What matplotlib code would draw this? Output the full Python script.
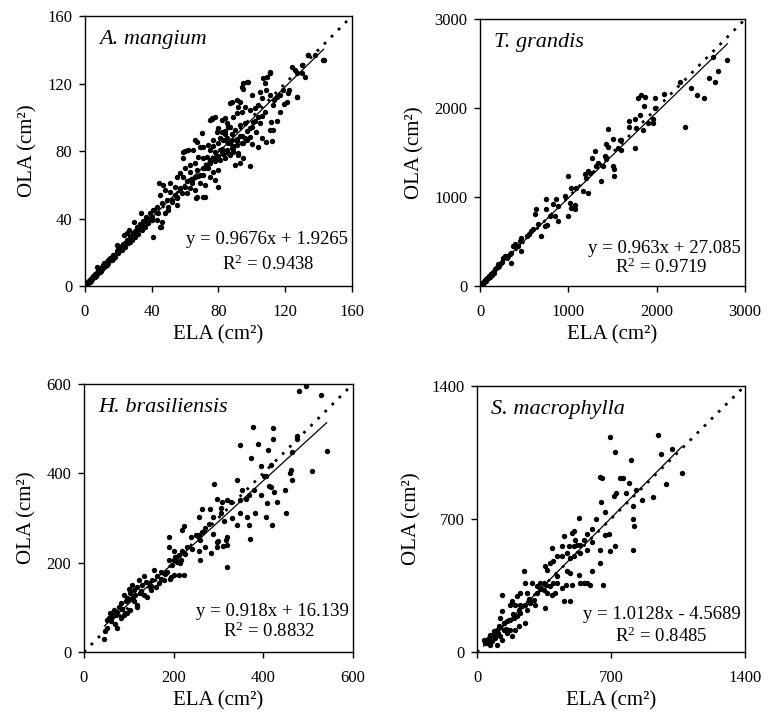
import numpy as np
import matplotlib
matplotlib.use('Agg')
import matplotlib.pyplot as plt

plt.rcParams['font.family'] = ['Liberation Serif', 'DejaVu Serif']
plt.rcParams['mathtext.fontset'] = 'custom'
plt.rcParams['mathtext.rm'] = 'Liberation Serif'
plt.rcParams['mathtext.default'] = 'regular'

# %% Data (ELA, OLA)
mangium_x = [0.5, 1, 1.5, 2, 2.5, 3, 3.5, 4, 4.5, 5, 5.5, 6, 6.5, 7, 7.5, 8, 8.5, 9, 9.5, 10, 10.5, 11, 11.5, 12,
             13, 13.5, 14, 15, 16, 17, 18, 19, 20, 21, 22, 23, 24, 25, 26, 27, 28, 29, 30, 31, 32, 33, 34, 35, 36,
             37, 38, 39, 40,
             40.9, 45.3, 33.4, 29.4, 23.4, 19.4, 7.4, 11.4, 15.4, 25.4, 26.4, 31.4, 36.4, 39.4, 41.4,
             2, 3, 6, 9, 12, 14, 17, 20, 22, 24, 27, 30, 33, 35, 37,
             142.8, 137.8, 133.8, 131.8, 129.8, 126.8, 125.8, 123.8, 129.8, 126.8, 120.8, 121.8, 118.8, 116.8,
             114.8, 112.8, 111.8, 112.8, 110.8, 107.8, 106.8, 97.9, 94.9, 93.9, 99.9, 104.8, 108.8, 110.8, 105.9,
             103.9, 101.9, 98.9, 95.9, 92.9, 91.9, 90.9, 87.9, 86.9, 93.9, 90.9, 88.9, 83.9, 81.9, 75.9, 74.9,
             84.9, 86.9, 79.9, 81.9, 83.9, 89.9, 92.9, 95.9, 98.9, 100.9, 104.8, 102.8, 98.9, 96.9, 105.9, 103.9,
             108.8, 110.8, 93.9, 90.9, 87.9, 85.9, 82.9, 79.9, 76.9, 70.9, 68.9, 66.9, 65.9, 64.9, 69.9, 73.9,
             74.9, 77.9, 81.9, 84.9, 88.9, 91.9, 94.9, 92.9, 89.9, 86.9, 83.9, 80.9, 77.9, 74.9, 72.9, 70.9, 67.9,
             65.9, 62.9, 58.9, 58.9, 61.9, 59.9, 62.9, 66.9, 70.9, 73.9, 76.9, 79.9, 74.9, 77.9, 79.9, 71.9, 68.9,
             65.9, 62.9, 58.9, 56.9, 54.9, 53.9, 50.9, 46.9, 47.9, 44.9, 50.9, 53.9, 56.9, 59.9, 60.9, 66.9, 70.9,
             65.9, 62.9, 45.9, 48.9, 51.9, 54.9, 42.9, 40.9, 43.9, 47.9, 49.9, 39.9, 44.9, 42.9, 45.9,
             143, 133.6, 127, 111, 109, 97, 95, 76, 78, 60, 44.6, 112, 66.5, 72, 99, 115,
             85, 88, 82, 91, 86, 80, 78, 84, 89, 93, 96, 100, 72, 75, 69, 64, 57, 52, 55, 61,
             87, 89, 91, 84, 86, 81, 79, 77, 94, 97, 102, 100, 106, 83, 88, 92, 95, 71, 73, 68, 64, 58, 55, 50,
             117, 119, 122, 113, 108, 104]
mangium_y = [0.6, 1.3, 1.2, 2.4, 2.2, 3.5, 3.1, 4.6, 4.2, 5.8, 5.1, 6.9, 6.2, 7.8, 7.1, 9.2, 8.3, 9.8, 9.0, 11.2,
             10.1, 12.3, 11.0, 13.4, 12.7, 14.5, 13.6, 16.4, 15.2, 18.5, 17.4, 21.0, 19.6, 23.2, 21.4, 24.8, 23.0,
             27.5, 25.3, 29.8, 27.0, 31.5, 29.2, 34.0, 31.0, 36.5, 33.0, 38.5, 35.0, 40.5, 37.5, 43, 39.0,
             28.8, 35.2, 43.1, 38.2, 30.2, 24.3, 11.1, 13.4, 16.2, 31.2, 33.2, 35.2, 41.1, 40.1, 45.1,
             1.5, 2.6, 5.5, 8.6, 11.8, 15.6, 16.3, 21.8, 23.9, 25.6, 26.2, 32.5, 33.8, 35.8, 37.9,
             134, 136.9, 136.9, 124, 126, 126, 128, 130, 131, 112.2, 109.3, 114.2, 116.2, 103.3, 112.2, 107.3,
             97.4, 92.5, 126, 120.1, 123.1, 121.1, 120.1, 118.2, 113.2, 115.2, 116.2, 113.2, 111.2, 107.3, 105.3,
             104.3, 106.3, 109.3, 106.3, 110.2, 109.3, 108.3, 103.3, 102.3, 100.4, 99.4, 98.4, 99.4, 98.4, 96.4,
             94.5, 93.5, 91.5, 90.5, 92.5, 95.4, 96.4, 93.5, 97.4, 96.4, 91.5, 88.5, 86.6, 87.5, 82.6, 85.6, 92.5,
             84.6, 83.6, 86.6, 84.6, 86.6, 84.6, 86.6, 82.6, 82.6, 85.6, 86.6, 80.6, 90.5, 83.6, 80.6, 79.6, 79.6,
             80.6, 79.6, 77.7, 75.7, 72.7, 71.7, 77.7, 75.7, 74.7, 75.7, 74.7, 76.7, 75.7, 76.7, 72.7, 71.7, 75.7,
             79.6, 80.6, 69.8, 67.8, 68.8, 69.8, 69.8, 67.8, 68.8, 64.8, 62.9, 58.9, 59.9, 60.9, 64.8, 62.9, 64.8,
             66.8, 64.8, 58.9, 60.9, 59.9, 56.9, 54, 55.9, 54, 56.9, 58.9, 55, 53, 53, 56.9, 57.9, 49, 51, 50, 48,
             47.1, 45.1, 43.1, 43.1, 45.1, 41.1, 35.2, 39.1, 38.2,
             134, 137, 112, 127, 124, 121, 117, 99, 100, 80, 61, 86, 52, 53, 71, 98,
             88, 90, 81, 86, 79, 77, 74, 92, 83, 89, 88, 94, 70, 73, 66, 63, 58, 51, 53, 62,
             85, 81, 87, 90, 94, 88, 91, 83, 89, 92, 98, 84, 101, 78, 82, 79, 85, 66, 71, 65, 61, 55, 52, 47,
             113, 108, 116, 110, 103, 100]

grandis_x = [2800, 2691, 2664, 2589, 2642, 2532, 2461, 2385, 2317, 2265, 2079, 1978, 1978, 1955, 1959, 1906, 1865,
             1820, 1789, 1853, 1808, 1751, 1687, 1691, 1762, 1842, 1751, 1449, 1506, 1581, 1600, 1562, 1600, 1431,
             1449, 1412, 1423, 1506, 1521, 1514, 1374, 1298, 1268, 1336, 1317, 1393, 1223, 1193, 1204, 1242, 1223,
             1166, 1091, 1034, 996, 959, 1072, 1072, 1034, 996, 1015, 883, 864, 827, 751, 845, 883, 751, 789, 762,
             732, 694, 638, 619, 657, 600, 581, 558, 536, 468, 449, 392, 373, 430, 355, 336, 468, 355, 279, 260,
             242, 204, 185, 147, 128, 91, 72, 53, 34, 15,
             5, 10, 20, 30, 40, 50, 60, 70, 80, 90, 100, 110, 120, 130, 150, 160, 170, 200, 220, 250, 300, 320]
grandis_y = [2539, 2416, 2292, 2341, 2577, 2112, 2146, 2232, 1786, 2292, 2165, 2109, 2004, 1873, 1835, 1828, 2127,
             2146, 2109, 2030, 1925, 1873, 1854, 1786, 1779, 1760, 1554, 1768, 1655, 1637, 1637, 1554, 1535, 1592,
             1565, 1461, 1423, 1348, 1311, 1236, 1180, 1517, 1442, 1386, 1348, 1348, 1292, 1255, 1217, 1273, 1049,
             1067, 1105, 1105, 1236, 1011, 906, 869, 880, 786, 936, 899, 974, 918, 974, 786, 730, 861, 786, 682,
             674, 562, 861, 805, 693, 637, 618, 580, 562, 543, 506, 468, 449, 449, 374, 356, 393, 262, 337, 318,
             262, 243, 206, 150, 131, 94, 75, 56, 37, 19,
             8, 12, 25, 28, 45, 42, 70, 62, 90, 85, 110, 100, 135, 120, 160, 150, 190, 210, 230, 270, 310, 340]

brasil_x = [494, 480, 529, 541, 509, 476, 474, 465, 461, 459, 463, 448, 451, 422, 422, 410, 388, 378, 349, 372,
            394, 416, 401, 407, 413, 416, 424, 430, 408, 394, 379, 368, 361, 352, 342, 348, 327, 320, 309, 296,
            291, 305, 288, 281, 264, 257, 279, 271, 257, 249, 223, 219, 238, 260, 264, 305, 312, 348, 363, 367,
            341, 381, 405, 420, 370, 320, 316, 320, 311, 297, 296, 283, 271, 257, 260, 320, 230, 219, 212, 201,
            190, 190, 204, 201, 197, 208, 216, 190, 186, 201, 212, 223, 192, 178, 171, 164, 156, 152, 145, 138,
            134, 130, 123, 119, 112, 108, 104, 100, 97, 93, 89, 82, 78, 74, 71, 67, 63, 59, 56, 52, 74, 52, 48,
            45, 112, 119, 104, 97, 89, 82, 126, 134, 149, 160, 167, 178, 115,
            60, 66, 70, 85, 92, 102, 110, 118, 128, 140, 150, 172, 182, 195, 205, 215, 225, 240, 288, 300, 330]
brasil_y = [596, 583, 575, 449, 406, 484, 476, 448, 407, 401, 384, 363, 312, 501, 476, 451, 466, 504, 462, 433,
            416, 418, 394, 394, 371, 368, 358, 336, 333, 351, 363, 351, 342, 363, 384, 340, 336, 339, 336, 342,
            376, 322, 303, 319, 319, 303, 287, 277, 262, 262, 281, 273, 258, 251, 269, 310, 292, 310, 303, 283,
            283, 310, 303, 284, 252, 258, 251, 240, 237, 247, 236, 221, 236, 227, 206, 191, 236, 225, 217, 227,
            236, 258, 213, 206, 195, 202, 206, 206, 180, 172, 172, 172, 163, 176, 180, 169, 184, 161, 154, 157,
            169, 150, 161, 146, 139, 150, 131, 142, 120, 113, 128, 109, 101, 90, 83, 94, 79, 87, 75, 72, 53, 53,
            46, 28, 113, 101, 94, 87, 83, 75, 131, 128, 139, 146, 154, 161, 128,
            70, 82, 62, 96, 88, 118, 124, 105, 136, 122, 148, 163, 175, 168, 212, 198, 220, 230, 265, 248, 300]

macro_x = [697, 945, 719, 804, 961, 1019, 1071, 987, 919, 862, 818, 818, 822, 815, 832, 797, 766, 749, 780, 728,
           717, 641, 653, 648, 670, 622, 670, 688, 719, 696, 644, 644, 601, 575, 557, 531, 505, 496, 514, 575, 540,
           522, 505, 479, 453, 444, 470, 505, 487, 444, 418, 400, 383, 392, 470, 487, 531, 601, 575, 557, 540, 592,
           658, 467, 496, 444, 418, 400, 383, 366, 357, 348, 331, 313, 287, 252, 244, 261, 313, 348, 366, 392, 409,
           453, 484, 357, 226, 209, 183, 174, 131, 131, 200, 226, 252, 279, 296, 305, 261, 226, 209, 192, 174, 157,
           139, 122, 113, 104, 87, 70, 61, 52, 78, 96, 122, 139, 183, 252, 218, 200, 174, 104, 70, 44, 35, 131,
           157, 218, 40, 50, 60, 75, 85, 95, 110, 120, 140, 150, 165, 190, 235, 270, 330, 360, 420, 540, 600]
macro_y = [1130, 1144, 1052, 1009, 1044, 1070, 942, 886, 816, 802, 770, 700, 661, 535, 851, 889, 916, 916, 837,
           837, 819, 921, 916, 788, 735, 700, 617, 623, 556, 533, 468, 538, 649, 623, 591, 705, 638, 626, 591, 538,
           565, 565, 556, 556, 612, 556, 521, 503, 495, 503, 503, 477, 468, 547, 424, 415, 407, 424, 363, 363, 363,
           354, 354, 354, 354, 337, 363, 363, 345, 433, 454, 363, 363, 345, 363, 363, 424, 310, 310, 328, 310, 302,
           310, 267, 270, 232, 310, 293, 267, 249, 302, 214, 249, 249, 249, 258, 275, 249, 223, 205, 188, 179, 170,
           161, 153, 179, 135, 118, 109, 91, 74, 56, 56, 74, 82, 118, 82, 153, 135, 118, 118, 39, 39, 47, 65, 65,
           100, 223, 55, 45, 70, 60, 90, 80, 100, 130, 150, 120, 170, 200, 240, 280, 330, 350, 400, 520, 580]

panels = [
    dict(name='A. mangium', x=mangium_x, y=mangium_y, lim=160, ticks=[0, 40, 80, 120, 160],
         fit=(0.9676, 1.9265), r2=0.9438, eq='y = 0.9676x + 1.9265', xr=(0, 143),
         pos=[0.1095, 0.6033, 0.344, 0.3745], eqy=(0.155, 0.058)),
    dict(name='T. grandis', x=grandis_x, y=grandis_y, lim=3000, ticks=[0, 1000, 2000, 3000],
         fit=(0.963, 27.085), r2=0.9719, eq='y = 0.963x + 27.085', xr=(0, 2800),
         pos=[0.6186, 0.6033, 0.3415, 0.370], eqy=(0.124, 0.048)),
    dict(name='H. brasiliensis', x=brasil_x, y=brasil_y, lim=600, ticks=[0, 200, 400, 600],
         fit=(0.918, 16.139), r2=0.8832, eq='y = 0.918x + 16.139', xr=(46, 541),
         pos=[0.108, 0.0957, 0.347, 0.372], eqy=(0.135, 0.056)),
    dict(name='S. macrophylla', x=macro_x, y=macro_y, lim=1400, ticks=[0, 700, 1400],
         fit=(1.0128, -4.5689), r2=0.8485, eq='y = 1.0128x - 4.5689', xr=(35, 1071),
         pos=[0.6147, 0.0957, 0.345, 0.369], eqy=(0.125, 0.037)),
]

fig = plt.figure(figsize=(7.76, 7.21), dpi=100)

for p in panels:
    ax = fig.add_axes(p['pos'])
    lim = p['lim']
    # 1:1 line
    ax.plot([0, lim], [0, lim], color='black', lw=2, linestyle=(0, (1, 2.6)), zorder=1)
    # fitted line
    a, b = p['fit']
    xr = np.array(p['xr'])
    ax.plot(xr, a * xr + b, color='black', lw=0.9, zorder=2)
    ax.scatter(p['x'], p['y'], s=15, color='black', linewidths=0, zorder=3)

    ax.set_xlim(0, lim)
    ax.set_ylim(0, lim)
    ax.set_xticks(p['ticks'])
    ax.set_yticks(p['ticks'])
    ax.tick_params(direction='out', length=4, width=1, labelsize=12)
    ax.tick_params(axis='x', pad=9)
    ax.tick_params(axis='y', pad=5)
    for s in ax.spines.values():
        s.set_linewidth(1)
    ax.set_xlabel('ELA (cm²)', fontsize=15, labelpad=4)
    ax.set_ylabel('OLA (cm²)', fontsize=15, labelpad=7)

    ax.text(0.052, 0.895, p['name'], transform=ax.transAxes, fontsize=16, style='italic', va='baseline')
    ax.text(0.985, p['eqy'][0], p['eq'], transform=ax.transAxes, fontsize=13.5, ha='right', va='baseline')
    ax.text(0.86, p['eqy'][1], 'R$^2$ = %.4f' % p['r2'], transform=ax.transAxes, fontsize=13.5,
            ha='right', va='baseline')

fig.savefig('out.png', dpi=100)
